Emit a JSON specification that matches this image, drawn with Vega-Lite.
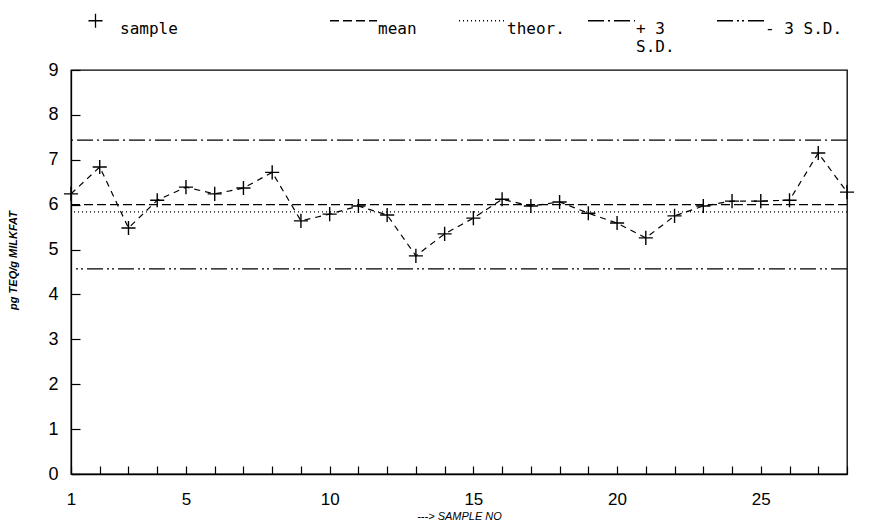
{
  "$schema": "https://vega.github.io/schema/vega-lite/v6.json",
  "width": 776,
  "height": 404,
  "autosize": {"type": "none"},
  "padding": {"left": 71, "top": 70, "right": 31, "bottom": 49},
  "background": "white",
  "config": {
    "view": {"stroke": "black", "strokeWidth": 1.3},
    "axis": {
      "grid": false,
      "domainColor": "black",
      "domainWidth": 1.3,
      "tickColor": "black",
      "tickWidth": 1.2,
      "labelColor": "black",
      "labelFont": "Liberation Sans",
      "labelFontSize": 17,
      "titleColor": "black",
      "titleFont": "Liberation Sans",
      "titleFontStyle": "italic",
      "titleFontWeight": "normal",
      "titleFontSize": 11,
      "labelFlush": false,
      "labelOverlap": false
    },
    "legend": {
      "labelFont": "DejaVu Sans Mono",
      "labelFontSize": 16,
      "labelColor": "black",
      "labelLimit": 400
    }
  },
  "datasets": {
    "samples": [
      {"sample": 1, "value": 6.24, "series": "sample"},
      {"sample": 2, "value": 6.84, "series": "sample"},
      {"sample": 3, "value": 5.48, "series": "sample"},
      {"sample": 4, "value": 6.10, "series": "sample"},
      {"sample": 5, "value": 6.39, "series": "sample"},
      {"sample": 6, "value": 6.24, "series": "sample"},
      {"sample": 7, "value": 6.37, "series": "sample"},
      {"sample": 8, "value": 6.72, "series": "sample"},
      {"sample": 9, "value": 5.64, "series": "sample"},
      {"sample": 10, "value": 5.79, "series": "sample"},
      {"sample": 11, "value": 5.97, "series": "sample"},
      {"sample": 12, "value": 5.77, "series": "sample"},
      {"sample": 13, "value": 4.86, "series": "sample"},
      {"sample": 14, "value": 5.35, "series": "sample"},
      {"sample": 15, "value": 5.70, "series": "sample"},
      {"sample": 16, "value": 6.12, "series": "sample"},
      {"sample": 17, "value": 5.97, "series": "sample"},
      {"sample": 18, "value": 6.06, "series": "sample"},
      {"sample": 19, "value": 5.81, "series": "sample"},
      {"sample": 20, "value": 5.59, "series": "sample"},
      {"sample": 21, "value": 5.26, "series": "sample"},
      {"sample": 22, "value": 5.75, "series": "sample"},
      {"sample": 23, "value": 5.97, "series": "sample"},
      {"sample": 24, "value": 6.08, "series": "sample"},
      {"sample": 25, "value": 6.08, "series": "sample"},
      {"sample": 26, "value": 6.10, "series": "sample"},
      {"sample": 27, "value": 7.15, "series": "sample"},
      {"sample": 28, "value": 6.28, "series": "sample"}
    ],
    "limits": [
      {"series": "mean", "value": 6.0},
      {"series": "theor.", "value": 5.84},
      {"series": "+ 3 S.D.", "value": 7.44},
      {"series": "- 3 S.D.", "value": 4.57}
    ]
  },
  "layer": [
    {
      "data": {"name": "limits"},
      "mark": {"type": "rule", "color": "black", "strokeWidth": 1.2},
      "encoding": {
        "y": {
          "field": "value",
          "type": "quantitative",
          "scale": {"domain": [0, 9], "nice": false, "zero": false},
          "axis": {
            "values": [0, 1, 2, 3, 4, 5, 6, 7, 8, 9],
            "tickSize": -9,
            "labelPadding": 22,
            "labelFontSize": 18,
            "labelOverlap": false,
            "title": "pg TEQ/g MILKFAT",
            "titleFontWeight": "bold",
            "titleX": -58,
            "titleY": 190,
            "titleAlign": "center",
            "titleBaseline": "middle"
          }
        },
        "strokeDash": {
          "field": "series",
          "type": "nominal",
          "scale": {
            "domain": ["sample", "", "mean", "theor.", "+ 3 S.D.", "- 3 S.D."],
            "range": [[1, 0], [0, 100], [9, 4], [1, 3], [16, 4, 2, 4], [16, 4, 2, 3, 2, 4]]
          },
          "legend": {
            "orient": "top",
            "direction": "horizontal",
            "title": null,
            "offset": 15,
            "gridAlign": "all",
            "symbolSize": 2209,
            "symbolStrokeColor": "black",
            "symbolStrokeWidth": 1.3,
            "labelOffset": 0,
            "labelBaseline": "top",
            "columnPadding": 0,
            "labelExpr": "datum.label == 'sample' ? ['sample', '⠀'] : datum.label == 'mean' ? ['mean', '⠀'] : datum.label == 'theor.' ? ['theor.', '⠀'] : datum.label == '+ 3 S.D.' ? ['+ 3', 'S.D.'] : datum.label == '- 3 S.D.' ? ['- 3 S.D.', '⠀'] : ['⠀', '⠀']"
          }
        }
      }
    },
    {
      "data": {"name": "samples"},
      "mark": {"type": "line", "color": "black", "strokeDash": [6, 5], "strokeWidth": 1.2},
      "encoding": {
        "x": {
          "field": "sample",
          "type": "quantitative",
          "scale": {"domain": [1, 28], "nice": false, "zero": false},
          "axis": {
            "values": [1, 2, 3, 4, 5, 6, 7, 8, 9, 10, 11, 12, 13, 14, 15, 16, 17, 18, 19, 20, 21, 22, 23, 24, 25, 26, 27, 28],
            "labelExpr": "datum.value == 1 || datum.value % 5 == 0 ? datum.label : ''",
            "labelOverlap": false,
            "tickSize": -8,
            "labelPadding": 25,
            "title": "---> SAMPLE NO",
            "titlePadding": 3
          }
        },
        "y": {"field": "value", "type": "quantitative"}
      }
    },
    {
      "data": {"name": "samples"},
      "mark": {"type": "point", "filled": false, "color": "black", "strokeWidth": 1.4, "size": 2209, "opacity": 1},
      "encoding": {
        "x": {
          "field": "sample",
          "type": "quantitative",
          "axis": {
            "values": [1, 2, 3, 4, 5, 6, 7, 8, 9, 10, 11, 12, 13, 14, 15, 16, 17, 18, 19, 20, 21, 22, 23, 24, 25, 26, 27, 28],
            "labelExpr": "datum.value == 1 || datum.value % 5 == 0 ? datum.label : ''",
            "labelOverlap": false,
            "tickSize": -8,
            "labelPadding": 25,
            "title": "---> SAMPLE NO",
            "titlePadding": 3
          }
        },
        "y": {"field": "value", "type": "quantitative"},
        "shape": {
          "field": "series",
          "type": "nominal",
          "scale": {
            "domain": ["sample", "", "mean", "theor.", "+ 3 S.D.", "- 3 S.D."],
            "range": ["M-0.3,0L0.3,0M0,-0.3L0,0.3", "stroke", "stroke", "stroke", "stroke", "stroke"]
          },
          "legend": {
            "orient": "top",
            "direction": "horizontal",
            "title": null,
            "offset": 15,
            "gridAlign": "all",
            "symbolSize": 2209,
            "symbolStrokeColor": "black",
            "symbolStrokeWidth": 1.3,
            "labelOffset": 0,
            "labelBaseline": "top",
            "columnPadding": 0,
            "labelExpr": "datum.label == 'sample' ? ['sample', '⠀'] : datum.label == 'mean' ? ['mean', '⠀'] : datum.label == 'theor.' ? ['theor.', '⠀'] : datum.label == '+ 3 S.D.' ? ['+ 3', 'S.D.'] : datum.label == '- 3 S.D.' ? ['- 3 S.D.', '⠀'] : ['⠀', '⠀']"
          }
        }
      }
    }
  ]
}
